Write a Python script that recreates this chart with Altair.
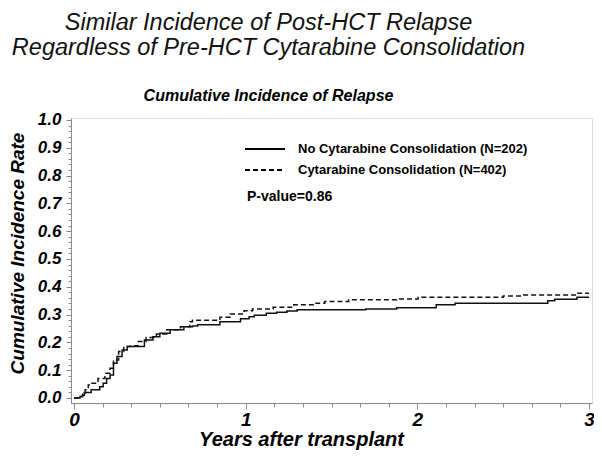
import altair as alt
import pandas as pd

# --- data ---
groups = ["No Cytarabine Consolidation (N=202)", "Cytarabine Consolidation (N=402)"]

no_t = [0, 0.035, 0.05, 0.06, 0.10, 0.15, 0.17, 0.19, 0.21, 0.23, 0.25, 0.28, 0.31,
        0.41, 0.46, 0.50, 0.56, 0.64, 0.69, 0.72, 0.85, 0.97, 1.02, 1.05, 1.12, 1.18,
        1.24, 1.30, 1.70, 1.88, 2.11, 2.22, 2.76, 2.80, 2.93, 3.0]
no_v = [0, 0.005, 0.01, 0.02, 0.03, 0.04, 0.053, 0.07, 0.083, 0.125, 0.149, 0.173, 0.185,
        0.209, 0.22, 0.233, 0.245, 0.256, 0.259, 0.263, 0.274, 0.285, 0.292, 0.298, 0.305, 0.308,
        0.313, 0.317, 0.32, 0.325, 0.335, 0.341, 0.35, 0.355, 0.362, 0.362]

cy_t = [0, 0.035, 0.05, 0.065, 0.083, 0.10, 0.14, 0.18, 0.21, 0.23, 0.26, 0.29, 0.33,
        0.375, 0.42, 0.48, 0.54, 0.62, 0.675, 0.69, 0.85, 0.91, 0.99, 1.04, 1.16, 1.28,
        1.41, 1.46, 1.60, 1.88, 2.005, 2.50, 2.62, 2.92, 3.0]
cy_v = [0, 0.005, 0.018, 0.03, 0.047, 0.053, 0.07, 0.089, 0.107, 0.137, 0.167, 0.185, 0.188,
        0.203, 0.218, 0.23, 0.245, 0.256, 0.274, 0.28, 0.29, 0.302, 0.314, 0.32, 0.326, 0.335,
        0.341, 0.347, 0.353, 0.356, 0.362, 0.367, 0.37, 0.377, 0.377]

pvalue_text = "P-value=0.86"

x_ticks = [k / 6 for k in range(0, 19)]
y_ticks = [k / 50 for k in range(0, 51)]

df = pd.concat([
    pd.DataFrame({"t": no_t, "v": no_v, "g": groups[0]}),
    pd.DataFrame({"t": cy_t, "v": cy_v, "g": groups[1]}),
])

FONT = "Liberation Sans"
GRAY = "#8a8a8a"
DASHES = [[1, 0], [5, 3]]

lines = alt.Chart(df).mark_line(interpolate="step-after", strokeWidth=1.5, color="#111111").encode(
    x=alt.X("t:Q",
            scale=alt.Scale(domain=[-0.0175, 3.0175], nice=False, zero=False),
            axis=alt.Axis(
                title="Years after transplant",
                values=x_ticks,
                labelExpr="abs(datum.value - round(datum.value)) < 0.001 ? format(datum.value, 'd') : ''",
                labelOverlap=False,
                tickSize={"condition": {"test": "abs(datum.value - round(datum.value)) < 0.001", "value": 6}, "value": 4},
                labelFont=FONT, labelFontSize=19, labelFontWeight="bold", labelFontStyle="italic",
                labelColor="black", labelPadding=1, labelFlush=False,
                titleFont=FONT, titleFontSize=20, titleFontWeight="bold", titleFontStyle="italic",
                titleColor="black", titleX=230, titleY=42, titleBaseline="alphabetic",
                titleAnchor="middle", titleAlign="center",
                domainColor=GRAY, tickColor=GRAY, grid=False,
            )),
    y=alt.Y("v:Q",
            scale=alt.Scale(domain=[-0.018, 1.007], nice=False, zero=False),
            axis=alt.Axis(
                title="Cumulative Incidence Rate",
                values=y_ticks,
                labelExpr="abs(datum.value*10 - round(datum.value*10)) < 0.001 ? format(datum.value, '.1f') : ''",
                labelOverlap=False,
                tickSize={"condition": {"test": "abs(datum.value*10 - round(datum.value*10)) < 0.001", "value": 5}, "value": 3},
                labelFont=FONT, labelFontSize=17, labelFontWeight="bold", labelFontStyle="italic",
                labelColor="black", labelPadding=5, labelFlush=False,
                titleFont=FONT, titleFontSize=19, titleFontWeight="bold", titleFontStyle="italic",
                titleColor="black", titlePadding=10, titleY=135,
                domainColor=GRAY, tickColor=GRAY, grid=False,
            )),
    strokeDash=alt.StrokeDash("g:N", scale=alt.Scale(domain=groups, range=DASHES), legend=None),
)

# in-plot legend (pixel positions inside the plot area)
leg_rule_solid = alt.Chart().mark_rule(color="black", strokeWidth=2).encode(
    x=alt.value(174), x2=alt.value(214), y=alt.value(31))
leg_rule_dash = alt.Chart().mark_rule(color="black", strokeWidth=2, strokeDash=DASHES[1]).encode(
    x=alt.value(174), x2=alt.value(214), y=alt.value(52))
leg_text_solid = alt.Chart().mark_text(
    align="left", baseline="middle", font=FONT, fontSize=13, fontWeight="bold", color="black",
    text=groups[0]).encode(x=alt.value(227), y=alt.value(31))
leg_text_dash = alt.Chart().mark_text(
    align="left", baseline="middle", font=FONT, fontSize=13, fontWeight="bold", color="black",
    text=groups[1]).encode(x=alt.value(227), y=alt.value(52))
ptext = alt.Chart().mark_text(
    align="left", baseline="middle", font=FONT, fontSize=14, fontWeight="bold", color="black",
    text=pvalue_text).encode(x=alt.value(176), y=alt.value(79))

chart = alt.layer(lines, leg_rule_solid, leg_rule_dash, leg_text_solid, leg_text_dash, ptext).properties(
    width=521, height=285,
    autosize=alt.AutoSizeParams(type="none"),
    padding={"left": 63, "top": 110, "right": 2, "bottom": 53},
    title=alt.TitleParams(
        text=["Similar Incidence of Post-HCT Relapse", "Regardless of Pre-HCT Cytarabine Consolidation"],
        subtitle="Cumulative Incidence of Relapse",
        font=FONT, fontSize=23.5, fontWeight="normal", fontStyle="italic", color="#111111",
        lineHeight=25,
        subtitleFont=FONT, subtitleFontSize=16, subtitleFontWeight="bold", subtitleFontStyle="italic",
        subtitleColor="black", subtitlePadding=28,
        anchor="middle", dx=-63, offset=7,
    ),
).configure_view(stroke=GRAY, strokeWidth=1).configure(background="white")

chart.save("out.html", embed_options={"renderer": "svg", "actions": False})
